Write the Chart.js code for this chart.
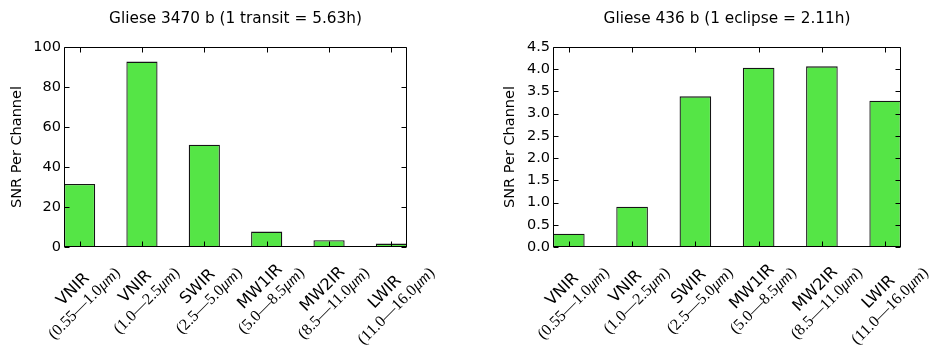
<!DOCTYPE html>
<html>
<head>
<meta charset="utf-8">
<script src="https://cdn.jsdelivr.net/npm/chart.js@4/dist/chart.umd.min.js"></script>
<style>
    html, body { margin: 0; padding: 0; background: #fff; }
    #wrap { position: relative; width: 932px; height: 349px; }
    canvas { position: absolute; top: 0; }
</style>
</head>
<body>
<div id="wrap">
    <canvas id="leftChart" width="466" height="349" style="left:0"></canvas>
    <canvas id="rightChart" width="466" height="349" style="left:466px"></canvas>
</div>
<script>
// Bandas e valores
const bandNames = ['VNIR', 'VNIR', 'SWIR', 'MW1IR', 'MW2IR', 'LWIR'];
const bandRanges = ['0.55\u20141.0', '1.0\u20142.5', '2.5\u20145.0', '5.0\u20148.5', '8.5\u201411.0', '11.0\u201416.0'];
const bandUnit = '\u03bcm';

const transitSnr = [31.5, 92.7, 51.1, 7.7, 3.4, 1.7];
const eclipseSnr = [0.30, 0.905, 3.39, 4.035, 4.065, 3.29];

const transitTitle = 'Gliese 3470 b (1 transit = 5.63h)';
const eclipseTitle = 'Gliese 436 b (1 eclipse = 2.11h)';
const yTitle = 'SNR Per Channel';

const transitTicks = { max: 100, step: 20, decimals: 0 };
const eclipseTicks = { max: 4.5, step: 0.5, decimals: 1 };

const barGreen = '#55e546';
const sansFont = '"DejaVu Sans", "Bitstream Vera Sans", sans-serif';
const serifFont = '"Liberation Serif", "DejaVu Serif", serif';

// Plugin que desenha moldura, ticks internos, título e rótulos rotacionados (estilo matplotlib)
const mplAxes = {
    id: 'mplAxes',
    afterDatasetsDraw(chart) {
        const { ctx, chartArea: a, scales } = chart;
        const L = Math.round(a.left) + 0.5, R = Math.round(a.right) - 0.5;
        const T = Math.round(a.top) + 0.5, B = Math.round(a.bottom) - 0.5;
        const tick = 5;
        ctx.save();
        ctx.strokeStyle = '#000';
        ctx.lineWidth = 1;
        ctx.beginPath();
        bandNames.forEach((_, i) => {
            const x = Math.round(scales.x.getPixelForValue(i)) + 0.5;
            ctx.moveTo(x, B); ctx.lineTo(x, B - tick);
            ctx.moveTo(x, T); ctx.lineTo(x, T + tick);
        });
        scales.y.ticks.forEach(t => {
            const y = Math.round(scales.y.getPixelForValue(t.value)) + 0.5;
            ctx.moveTo(L, y); ctx.lineTo(L + tick, y);
            ctx.moveTo(R, y); ctx.lineTo(R - tick, y);
        });
        // moldura
        ctx.moveTo(L, T); ctx.lineTo(R, T); ctx.lineTo(R, B); ctx.lineTo(L, B); ctx.closePath();
        ctx.stroke();
        ctx.restore();
    },
    afterDraw(chart) {
        const { ctx, chartArea: a, scales } = chart;
        const title = chart.options.plugins.mplAxes.title;
        ctx.save();
        ctx.fillStyle = '#000';
        ctx.textAlign = 'center';
        ctx.textBaseline = 'middle';
        ctx.font = '15.3px ' + sansFont;
        ctx.fillText(title, (a.left + a.right) / 2, 19);

        // rótulos do eixo x: duas linhas, giradas 45 graus
        const gap = 18, blockH = 36, pad = 3;
        const nameFont = '16px ' + sansFont;
        const rangeFont = '16px ' + serifFont;
        const unitFont = 'italic 16px ' + serifFont;
        bandNames.forEach((name, i) => {
            ctx.font = nameFont;
            const w1 = ctx.measureText(name).width;
            const partA = '(' + bandRanges[i];
            ctx.font = rangeFont;
            const wa = ctx.measureText(partA).width;
            const wc = ctx.measureText(')').width;
            ctx.font = unitFont;
            const wb = ctx.measureText(bandUnit).width;
            const w2 = wa + wb + wc;
            const w = Math.max(w1, w2);
            const cx = scales.x.getPixelForValue(i);
            const cy = a.bottom + pad + (w + blockH) / (2 * Math.SQRT2);
            ctx.save();
            ctx.translate(cx, cy);
            ctx.rotate(-Math.PI / 4);
            ctx.textBaseline = 'middle';
            ctx.textAlign = 'center';
            ctx.font = nameFont;
            ctx.fillText(name, 0, -gap / 2);
            ctx.textAlign = 'left';
            let x = -w2 / 2 - 2;
            ctx.font = rangeFont;
            ctx.fillText(partA, x, gap / 2);
            x += wa;
            ctx.font = unitFont;
            ctx.fillText(bandUnit, x, gap / 2);
            x += wb;
            ctx.font = rangeFont;
            ctx.fillText(')', x, gap / 2);
            ctx.restore();
        });
        ctx.restore();
    }
};

function makeChart(id, values, title, yt, box) {
    const ctx = document.getElementById(id);
    return new Chart(ctx, {
        type: 'bar',
        data: {
            datasets: [{
                data: values.map((v, i) => ({ x: i, y: v })),
                backgroundColor: barGreen,
                borderColor: '#151515',
                borderWidth: 1.3,
                barPercentage: 0.5,
                categoryPercentage: 1.0
            }]
        },
        options: {
            responsive: false,
            animation: false,
            layout: {
                padding: { left: box.padLeft, right: box.padRight, top: 47, bottom: 0 }
            },
            plugins: {
                legend: { display: false },
                tooltip: { enabled: false },
                mplAxes: { title: title }
            },
            scales: {
                x: {
                    type: 'linear',
                    offset: false,
                    min: -0.25,
                    max: 5.25,
                    grid: { display: false, offset: false },
                    border: { display: false },
                    ticks: { display: false },
                    afterFit(scale) { scale.height = 102; }
                },
                y: {
                    min: 0,
                    max: yt.max,
                    grid: { display: false, drawTicks: false },
                    border: { display: false },
                    ticks: {
                        stepSize: yt.step,
                        padding: 3,
                        color: '#000',
                        font: { family: sansFont, size: 14.5 },
                        callback: v => Number(v).toFixed(yt.decimals)
                    },
                    title: {
                        display: true,
                        text: yTitle,
                        color: '#000',
                        font: { family: sansFont, size: 14.5 },
                        padding: { top: 9, bottom: 0 }
                    },
                    afterFit(scale) { scale.width = box.axisWidth; }
                }
            }
        },
        plugins: [mplAxes]
    });
}

makeChart('leftChart', transitSnr, transitTitle, transitTicks, { padLeft: 0, padRight: 59, axisWidth: 64 });
makeChart('rightChart', eclipseSnr, eclipseTitle, eclipseTicks, { padLeft: 27, padRight: 31, axisWidth: 60 });
</script>
</body>
</html>
